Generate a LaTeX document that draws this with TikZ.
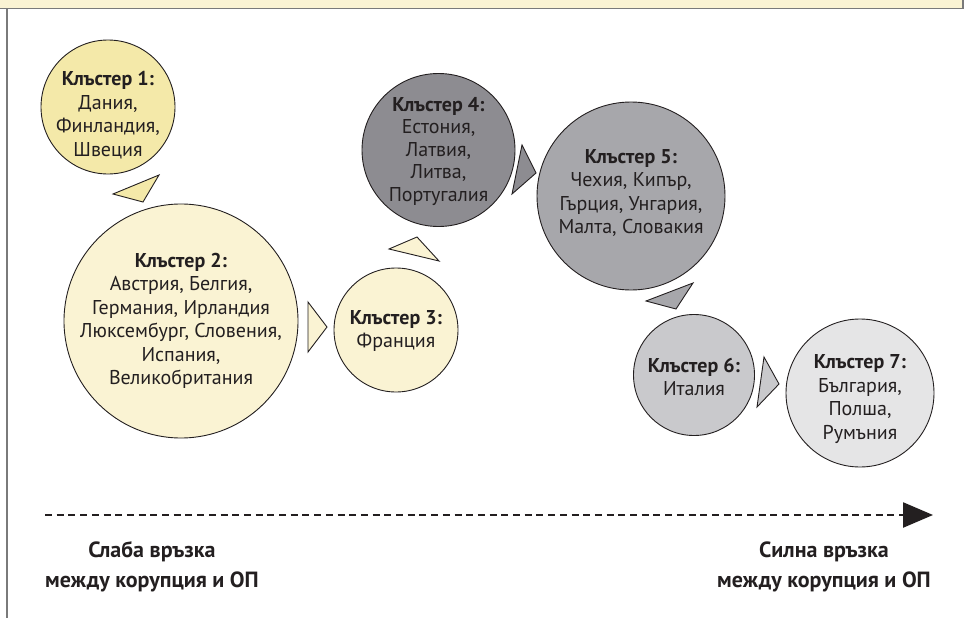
\documentclass[tikz,border=0pt]{standalone}
\usepackage{fontspec}
\setmainfont{PT Sans}
\usetikzlibrary{arrows.meta}
\definecolor{ylw}{HTML}{F4E9A9}
\definecolor{crm}{HTML}{FAF3D3}
\definecolor{gA}{HTML}{8D8C91}
\definecolor{gB}{HTML}{A7A7AB}
\definecolor{gC}{HTML}{C9C9CC}
\definecolor{gD}{HTML}{E5E5E6}
\definecolor{ink}{HTML}{231F20}
\definecolor{frame}{HTML}{7A7A7A}
\tikzset{
  clus/.style={circle, draw=ink, line width=0.9pt, inner sep=0pt, outer sep=0pt},
  lbl/.style={align=center, text=ink, inner sep=0pt, font=\fontsize{20}{23.5}\selectfont},
  tri/.style={draw=ink, line width=0.9pt, line join=miter},
  axiscaption/.style={align=center, text=ink, inner sep=0pt, font=\fontsize{22}{30}\selectfont\bfseries}
}
\begin{document}
\begin{tikzpicture}[x=1pt,y=-1pt]
\useasboundingbox (0,0) rectangle (966,618);
% banner and frame
\fill[crm] (0,0) rectangle (963,8.5);
\draw[frame, line width=1.5pt] (0,8.5) -- (963,8.5) -- (963,0);
\draw[frame, line width=1.2pt] (7,8.5) -- (7,618);
% circles
\node[clus, fill=ylw, minimum size=134] (c1) at (108,107) {};
\node[clus, fill=crm, minimum size=234] (c2) at (181,321) {};
\node[clus, fill=crm, minimum size=124] (c3) at (396,330) {};
\node[clus, fill=gA, minimum size=153] (c4) at (438.5,150) {};
\node[clus, fill=gB, minimum size=188] (c5) at (631,196) {};
\node[clus, fill=gC, minimum size=121] (c6) at (694,375) {};
\node[clus, fill=gD, minimum size=148] (c7) at (860,393) {};
% labels
\node[lbl] (t1) at (108,115) {\textbf{Клъстер 1:}\\Дания,\\Финландия,\\Швеция};
\node[lbl] (t2) at (181,321) {\textbf{Клъстер 2:}\\Австрия, Белгия,\\Германия, Ирландия\\Люксембург, Словения,\\Испания,\\Великобритания};
\node[lbl] (t3) at (396,331) {\textbf{Клъстер 3:}\\Франция};
\node[lbl, font=\fontsize{20}{22.5}\selectfont] (t4) at (438.5,151) {\textbf{Клъстер 4:}\\Естония,\\Латвия,\\Литва,\\Португалия};
\node[lbl] (t5) at (631,193) {\textbf{Клъстер 5:}\\Чехия, Кипър,\\Гърция, Унгария,\\Малта, Словакия};
\node[lbl] (t6) at (694,377) {\textbf{Клъстер 6:}\\Италия};
\node[lbl] (t7) at (860,399) {\textbf{Клъстер 7:}\\България,\\Полша,\\Румъния};
% triangles
\draw[tri, fill=ylw] (113,194) -- (159,175) -- (143,202) -- cycle;
\draw[tri, fill=crm] (308,302) -- (327,327) -- (308,352) -- cycle;
\draw[tri, fill=crm] (389,249) -- (417,237) -- (439,261) -- cycle;
\draw[tri, fill=gA] (522,145) -- (536,173) -- (512,194) -- cycle;
\draw[tri, fill=gB] (646,301) -- (693,283) -- (676,309) -- cycle;
\draw[tri, fill=gC] (764,357) -- (779,384) -- (757,407) -- cycle;
% axis
\coordinate (a0) at (45,515);
\coordinate (a1) at (933,515);
\draw[ink, line width=2.4pt, dash pattern=on 7pt off 4.7pt, -{Triangle[length=30pt,width=25pt]}] (a0) -- (a1);
\node[axiscaption] (w1) at (152,552) {Слаба връзка};
\node[axiscaption] (w2) at (152,582) {между корупция и ОП};
\node[axiscaption] (s1) at (824,552) {Силна връзка};
\node[axiscaption] (s2) at (824,582) {между корупция и ОП};
\end{tikzpicture}
\end{document}
